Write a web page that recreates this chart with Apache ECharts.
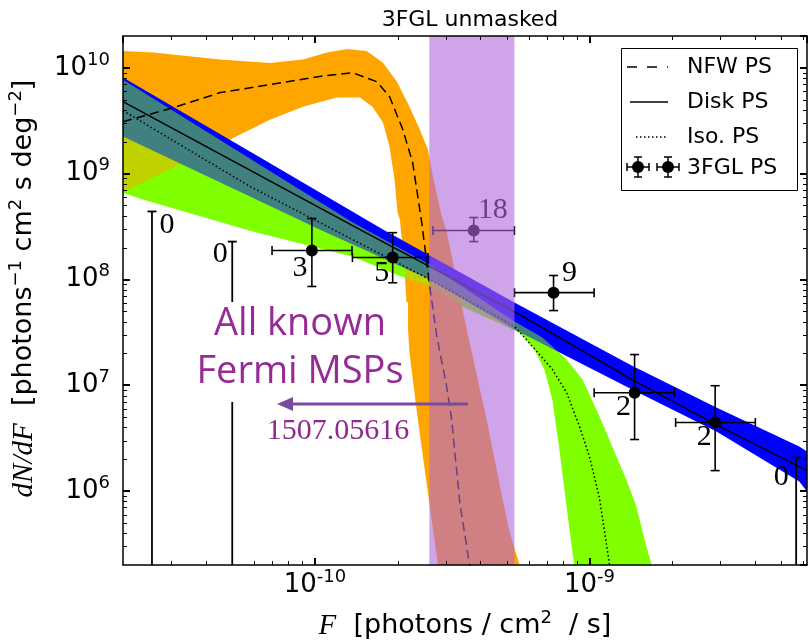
<!DOCTYPE html>
<html><head><meta charset="utf-8">
<script src="https://cdn.jsdelivr.net/npm/echarts@6/dist/echarts.min.js"></script>
<style>html,body{margin:0;padding:0;background:#fff}#c{width:808px;height:641px}</style>
</head><body><div id="c"></div>
<script>
// ---------- axis extents ----------
const X_MIN = 2e-11, X_MAX = 6.2e-9;
const Y_MIN = 2e5, Y_MAX = 2e10;

// ---------- NFW PS band (orange) ----------
const orangeUpper = [[2.0e-11,1.44e10],[2.58e-11,1.40e10],[4.52e-11,1.20e10],[6.86e-11,1.11e10],[9.04e-11,1.20e10],[1.106e-10,1.40e10],[1.31e-10,1.51e10],[1.545e-10,1.44e10],[1.77e-10,1.12e10],[1.99e-10,7.4e9],[2.21e-10,4.3e9],[2.41e-10,2.61e9],[2.58e-10,1.69e9],[2.69e-10,9.4e8],[2.90e-10,3.94e8],[3.02e-10,2.84e8],[3.51e-10,4.18e7],[4.22e-10,4.74e6],[4.83e-10,8.3e5],[5.12e-10,4.06e5],[5.56e-10,2.02e5],[5.7e-10,1.5e5]];
const orangeLower = [[2.0e-11,6.6e8],[4.91e-11,2.10e9],[6.86e-11,3.24e9],[9.04e-11,4.3e9],[1.20e-10,5.24e9],[1.46e-10,5.24e9],[1.62e-10,4.3e9],[1.77e-10,3.04e9],[1.87e-10,1.80e9],[1.95e-10,8.8e8],[2.0e-10,4.3e8],[2.04e-10,3.68e8],[2.12e-10,1.24e8],[2.21e-10,2.04e7],[2.37e-10,4.74e6],[2.85e-10,1.5e5]];
// ---------- Disk PS band (blue) ----------
const blueUpper = [[2.0e-11,8.1e9],[5.8e-11,1.62e9],[1.77e-10,2.96e8],[5.33e-10,6.04e7],[1.43e-9,1.53e7],[2.90e-9,6.15e6],[5.81e-9,2.63e6],[6.2e-9,2.36e6]];
const blueLower = [[2.0e-11,2.24e9],[5.8e-11,6.07e8],[1.04e-10,2.96e8],[2.62e-10,1.0e8],[5.33e-10,3.36e7],[1.43e-9,9.1e6],[2.90e-9,3.65e6],[5.81e-9,1.23e6],[6.2e-9,9.9e5]];
// ---------- Iso PS band (green) ----------
const greenUpper = [[2.0e-11,7.7e9],[1.37e-10,3.47e8],[2.62e-10,1.38e8],[5.33e-10,4.0e7],[6.74e-10,2.83e7],[8.24e-10,1.75e7],[9.44e-10,1.13e7],[1.087e-9,5.07e6],[1.21e-9,2.64e6],[1.36e-9,1.29e6],[1.48e-9,7.2e5],[1.61e-9,3.0e5],[1.69e-9,1.94e5],[1.72e-9,1.5e5]];
const greenLower = [[2.0e-11,6.6e8],[2.37e-11,5.69e8],[5.95e-11,2.84e8],[1.37e-10,1.65e8],[1.99e-10,1.11e8],[2.62e-10,8.6e7],[3.45e-10,5.54e7],[5.56e-10,3.15e7],[6.3e-10,2.18e7],[6.86e-10,1.41e7],[7.33e-10,7.3e6],[7.78e-10,2.47e6],[8.24e-10,7.45e5],[8.81e-10,1.94e5],[8.9e-10,1.5e5]];

// ---------- median lines ----------
const nfwLine = [[2.0e-11,3.1e9],[3.05e-11,4.2e9],[4.52e-11,5.84e9],[6.86e-11,6.95e9],[1.04e-10,8.3e9],[1.37e-10,9.0e9],[1.68e-10,7.4e9],[1.87e-10,5.35e9],[2.09e-10,2.61e9],[2.27e-10,1.27e9],[2.45e-10,3.45e8],[2.62e-10,8.6e7],[2.78e-10,2.9e7],[3.02e-10,9.7e6],[3.15e-10,4.7e6],[3.37e-10,7.8e5],[3.66e-10,2.0e5],[3.72e-10,1.5e5]];
const diskLine = [[2.0e-11,4.8e9],[1.46e-10,2.96e8],[5.33e-10,4.97e7],[1.43e-9,1.13e7],[2.80e-9,4.43e6],[6.2e-9,1.56e6]];
const isoLine = [[2.0e-11,3.94e9],[5.8e-11,7.57e8],[2.62e-10,1.0e8],[5.33e-10,3.6e7],[6.2e-10,2.33e7],[7.33e-10,1.41e7],[8.24e-10,8.6e6],[9.2e-10,4.08e6],[1.0e-9,2.12e6],[1.087e-9,8.7e5],[1.18e-9,2.12e5],[1.19e-9,1.5e5]];

// ---------- 3FGL point sources: [F, dN/dF, F_lo, F_hi, y_lo, y_hi] ----------
const psPoints = [
  [9.75e-11,1.88e8,6.98e-11,1.365e-10,8.58e7,3.77e8],
  [1.92e-10,1.61e8,1.37e-10,2.58e-10,9.3e7,2.77e8],
  [3.79e-10,2.9e8,2.69e-10,5.33e-10,2.28e8,3.85e8],
  [7.4e-10,7.5e7,5.33e-10,1.04e-9,5.08e7,1.09e8],
  [1.46e-9,8.5e6,1.04e-9,2.04e-9,3.07e6,1.95e7],
  [2.87e-9,4.44e6,2.06e-9,4.02e-9,1.56e6,9.9e6]
];
const psCounts = ['3','5','18','9','2','2'];
// upper limits: [F, top of bar]
const upperLimits = [[2.55e-11,4.39e8],[5.0e-11,2.28e8],[5.66e-9,2.07e6]];
const ulCounts = ['0','0','0'];
// masked flux range (purple)
const purpleBand = [2.61e-10, 5.33e-10];

// ---------- styling (label offsets in px) ----------
const psLabelOffsets = [[-12,18],[-11,16],[19,-20],[16,-20],[-11,14],[-11,15]];
const ulLabelOffsets = [[15,14],[-12,13],[-15,20]];

// minor tick values
const xMinor = [], yMinor = [];
for (let d = -12; d <= -8; d++) for (let m = 2; m <= 9; m++) { const v = m * Math.pow(10, d); if (v > X_MIN * 1.0001 && v < X_MAX * 0.9999) xMinor.push(v); }
for (let d = 5; d <= 10; d++) for (let m = 2; m <= 9; m++) { const v = m * Math.pow(10, d); if (v > Y_MIN * 1.0001 && v < Y_MAX * 0.9999) yMinor.push(v); }

function bandSeries(name, upper, lower, fill, z) {
  return {
    type: 'custom', name, z, silent: true, clip: true, animation: false,
    data: [upper[0]], encode: { x: 0, y: 1 },
    renderItem(params, api) {
      const pts = upper.concat(lower.slice().reverse()).map(p => api.coord(p));
      return { type: 'polygon', shape: { points: pts }, style: { fill: fill, stroke: null } };
    }
  };
}
function lineSeries(name, data, type, z) {
  return { type: 'line', name, data, z, symbol: 'none', showSymbol: false, silent: true, animation: false, clip: true,
    lineStyle: { color: '#000', width: 1.5, type: type } };
}

function supLabel(v) {
  const l = Math.log10(v), e = Math.round(l);
  if (Math.abs(l - e) > 1e-6) return '';
  return '{b|10}{s|' + e + '}';
}
const tickRich = {
  b: { fontFamily: 'DejaVu Sans', fontSize: 26, lineHeight: 34, color: '#000' },
  s: { fontFamily: 'DejaVu Sans', fontSize: 18, lineHeight: 18, verticalAlign: 'top', color: '#000' }
};
const nameRich = {
  i: { fontFamily: 'Liberation Serif', fontStyle: 'italic', fontSize: 29, lineHeight: 34, color: '#000' },
  n: { fontFamily: 'DejaVu Sans', fontSize: 27, lineHeight: 34, color: '#000' },
  s: { fontFamily: 'DejaVu Sans', fontSize: 18, lineHeight: 18, verticalAlign: 'top', color: '#000' }
};
const axLine = { show: true, lineStyle: { color: '#000', width: 1.5 } };
const majTick = { show: true, inside: true, length: 7, lineStyle: { color: '#000', width: 2 } };

// legend error-bar marker (drawn in pixels)
function legendMarker(cx, cy) {
  const st = { stroke: '#000', lineWidth: 1.5 };
  return [
    { type: 'line', z: 41, shape: { x1: cx - 11, y1: cy, x2: cx + 11, y2: cy }, style: st },
    { type: 'line', z: 41, shape: { x1: cx, y1: cy - 10, x2: cx, y2: cy + 10 }, style: st },
    { type: 'line', z: 41, shape: { x1: cx - 11, y1: cy - 4, x2: cx - 11, y2: cy + 4 }, style: st },
    { type: 'line', z: 41, shape: { x1: cx + 11, y1: cy - 4, x2: cx + 11, y2: cy + 4 }, style: st },
    { type: 'line', z: 41, shape: { x1: cx - 4, y1: cy - 10, x2: cx + 4, y2: cy - 10 }, style: st },
    { type: 'line', z: 41, shape: { x1: cx - 4, y1: cy + 10, x2: cx + 4, y2: cy + 10 }, style: st },
    { type: 'circle', z: 42, shape: { cx: cx, cy: cy, r: 6 }, style: { fill: '#000' } }
  ];
}

const chart = echarts.init(document.getElementById('c'), null, { renderer: 'canvas', width: 808, height: 641 });

const option = {
  animation: false,
  backgroundColor: '#fff',
  title: { text: '3FGL unmasked', left: 465, top: 4, textAlign: 'center',
    textStyle: { fontFamily: 'DejaVu Sans', fontSize: 22, fontWeight: 'normal', color: '#000' } },
  grid: { left: 123, top: 36, width: 684, height: 529, show: false, containLabel: false, outerBoundsMode: 'none' },
  xAxis: [
    { type: 'log', logBase: 10, min: X_MIN, max: X_MAX, position: 'bottom', z: 25,
      axisLine: axLine, axisTick: majTick, splitLine: { show: false }, minorTick: { show: false },
      axisLabel: { formatter: supLabel, rich: tickRich, margin: 3, showMinLabel: false, showMaxLabel: false },
      name: '{i|F}{n|  [photons / cm}{s|2}{n|  / s]}', nameLocation: 'middle', nameGap: 44,
      nameTextStyle: { rich: nameRich } },
    { type: 'log', logBase: 10, min: X_MIN, max: X_MAX, position: 'top', z: 25,
      axisLine: axLine, axisTick: majTick, splitLine: { show: false }, axisLabel: { show: false } }
  ],
  yAxis: [
    { type: 'log', logBase: 10, min: Y_MIN, max: Y_MAX, position: 'left', z: 25,
      axisLine: axLine, axisTick: majTick, splitLine: { show: false },
      axisLabel: { formatter: supLabel, rich: tickRich, margin: 13, showMinLabel: false, showMaxLabel: false },
      name: '{i|dN/dF}{n|  [photons}{s|−1}{n| cm}{s|2}{n| s deg}{s|−2}{n|]}', nameLocation: 'middle', nameRotate: 90, nameGap: 82,
      nameTextStyle: { rich: nameRich, padding: [0, 0, 0, 24] } },
    { type: 'log', logBase: 10, min: Y_MIN, max: Y_MAX, position: 'right', z: 25,
      axisLine: axLine, axisTick: majTick, splitLine: { show: false }, axisLabel: { show: false } }
  ],
  series: [
    bandSeries('Iso band base', greenUpper, greenLower, '#7fff00', 1),
    bandSeries('NFW band', orangeUpper, orangeLower, '#ffa500', 2),
    bandSeries('Disk band', blueUpper, blueLower, '#0000ff', 3),
    bandSeries('Iso band', greenUpper, greenLower, 'rgba(127,255,0,0.5)', 4),
    lineSeries('NFW PS', nfwLine, [9, 5], 5),
    lineSeries('Disk PS', diskLine, 'solid', 5),
    lineSeries('Iso. PS', isoLine, [1.5, 2.5], 5),
    { type: 'custom', name: '3FGL upper limits', z: 6, silent: true, clip: true, animation: false,
      data: upperLimits, encode: { x: 0, y: 1 },
      renderItem(params, api) {
        const t = api.coord([api.value(0), api.value(1)]);
        const cs = params.coordSys, b = cs.y + cs.height;
        const off = ulLabelOffsets[params.dataIndex];
        const st = { stroke: '#000', lineWidth: 1.8 };
        return { type: 'group', children: [
          { type: 'line', shape: { x1: t[0], y1: t[1], x2: t[0], y2: b }, style: st },
          { type: 'line', shape: { x1: t[0] - 4.5, y1: t[1], x2: t[0] + 4.5, y2: t[1] }, style: st },
          { type: 'text', x: t[0] + off[0], y: t[1] + off[1], style: { text: ulCounts[params.dataIndex], font: '30px "Liberation Serif"', fill: '#000', align: 'center', verticalAlign: 'middle' } }
        ] };
      } },
    { type: 'custom', name: '3FGL PS', z: 6, silent: true, clip: false, animation: false,
      data: psPoints, encode: { x: 0, y: 1 },
      renderItem(params, api) {
        const F = api.value(0), Y = api.value(1);
        const c = api.coord([F, Y]);
        const xl = api.coord([api.value(2), Y]), xh = api.coord([api.value(3), Y]);
        const yl = api.coord([F, api.value(4)]), yh = api.coord([F, api.value(5)]);
        const st = { stroke: '#000', lineWidth: 1.6 }, cap = 4.5;
        const off = psLabelOffsets[params.dataIndex];
        return { type: 'group', children: [
          { type: 'line', shape: { x1: xl[0], y1: c[1], x2: xh[0], y2: c[1] }, style: st },
          { type: 'line', shape: { x1: c[0], y1: yl[1], x2: c[0], y2: yh[1] }, style: st },
          { type: 'line', shape: { x1: xl[0], y1: c[1] - cap, x2: xl[0], y2: c[1] + cap }, style: st },
          { type: 'line', shape: { x1: xh[0], y1: c[1] - cap, x2: xh[0], y2: c[1] + cap }, style: st },
          { type: 'line', shape: { x1: c[0] - cap, y1: yl[1], x2: c[0] + cap, y2: yl[1] }, style: st },
          { type: 'line', shape: { x1: c[0] - cap, y1: yh[1], x2: c[0] + cap, y2: yh[1] }, style: st },
          { type: 'circle', shape: { cx: c[0], cy: c[1], r: 6 }, style: { fill: '#000' } },
          { type: 'text', x: c[0] + off[0], y: c[1] + off[1], style: { text: psCounts[params.dataIndex], font: '30px "Liberation Serif"', fill: '#000', align: 'center', verticalAlign: 'middle' } }
        ] };
      } },
    { type: 'custom', name: 'masked range', z: 7, silent: true, clip: true, animation: false,
      data: [[purpleBand[0], Y_MIN, purpleBand[1], Y_MAX]], encode: { x: [0, 2], y: [1, 3] },
      renderItem(params, api) {
        const p0 = api.coord([api.value(0), api.value(3)]);
        const p1 = api.coord([api.value(2), api.value(1)]);
        return { type: 'rect', shape: { x: p0[0], y: p0[1], width: p1[0] - p0[0], height: p1[1] - p0[1] }, style: { fill: 'rgba(177,103,217,0.6)' } };
      } },
    { type: 'custom', name: 'minor ticks', z: 20, silent: true, clip: false, animation: false,
      data: [[X_MIN, Y_MIN]], encode: { x: 0, y: 1 },
      renderItem(params, api) {
        const cs = params.coordSys, ch = [];
        const st = { stroke: '#000', lineWidth: 1 }, L = 4;
        xMinor.forEach(v => {
          const px = Math.round(api.coord([v, Y_MIN])[0]) + 0.5;
          ch.push({ type: 'line', shape: { x1: px, y1: cs.y + cs.height, x2: px, y2: cs.y + cs.height - L }, style: st });
          ch.push({ type: 'line', shape: { x1: px, y1: cs.y, x2: px, y2: cs.y + L }, style: st });
        });
        yMinor.forEach(v => {
          const py = Math.round(api.coord([X_MIN, v])[1]) + 0.5;
          ch.push({ type: 'line', shape: { x1: cs.x, y1: py, x2: cs.x + L, y2: py }, style: st });
          ch.push({ type: 'line', shape: { x1: cs.x + cs.width, y1: py, x2: cs.x + cs.width - L, y2: py }, style: st });
        });
        return { type: 'group', children: ch };
      } }
  ],
  graphic: { elements: [
    // annotation
    { type: 'rect', z: 30, shape: { x: 186, y: 302, width: 222, height: 100 }, style: { fill: '#fff' } },
    { type: 'text', z: 31, x: 300, y: 324, style: { text: 'All known', font: '38px "Open Sans"', fill: '#962a96', align: 'center', verticalAlign: 'middle' } },
    { type: 'text', z: 31, x: 300, y: 372, style: { text: 'Fermi MSPs', font: '38px "Open Sans"', fill: '#962a96', align: 'center', verticalAlign: 'middle' } },
    { type: 'line', z: 31, shape: { x1: 468, y1: 404, x2: 290, y2: 404 }, style: { stroke: '#7a4a9e', lineWidth: 3 } },
    { type: 'polygon', z: 31, shape: { points: [[277, 404], [293, 397], [293, 411]] }, style: { fill: '#7a4a9e' } },
    { type: 'text', z: 31, x: 338, y: 431, style: { text: '1507.05616', font: '30px "Liberation Serif"', fill: '#8e2a8e', align: 'center', verticalAlign: 'middle' } },
    // legend
    { type: 'rect', z: 40, shape: { x: 621.5, y: 48.5, width: 176, height: 142 }, style: { fill: '#fff', stroke: '#000', lineWidth: 1 } },
    { type: 'line', z: 41, shape: { x1: 627, y1: 67, x2: 668, y2: 67 }, style: { stroke: '#000', lineWidth: 1.5, lineDash: [10, 10] } },
    { type: 'line', z: 41, shape: { x1: 630, y1: 102, x2: 668, y2: 102 }, style: { stroke: '#000', lineWidth: 1.5 } },
    { type: 'line', z: 41, shape: { x1: 636, y1: 137, x2: 668, y2: 137 }, style: { stroke: '#000', lineWidth: 1.5, lineDash: [1.5, 2.5] } }
  ].concat(legendMarker(638, 167), legendMarker(668, 167), [
    { type: 'text', z: 41, x: 687, y: 67, style: { text: 'NFW PS', font: '22px "DejaVu Sans"', fill: '#000', verticalAlign: 'middle' } },
    { type: 'text', z: 41, x: 687, y: 102, style: { text: 'Disk PS', font: '22px "DejaVu Sans"', fill: '#000', verticalAlign: 'middle' } },
    { type: 'text', z: 41, x: 687, y: 137, style: { text: 'Iso. PS', font: '22px "DejaVu Sans"', fill: '#000', verticalAlign: 'middle' } },
    { type: 'text', z: 41, x: 687, y: 168, style: { text: '3FGL PS', font: '22px "DejaVu Sans"', fill: '#000', verticalAlign: 'middle' } }
  ]) }
};
chart.setOption(option);
</script></body></html>
